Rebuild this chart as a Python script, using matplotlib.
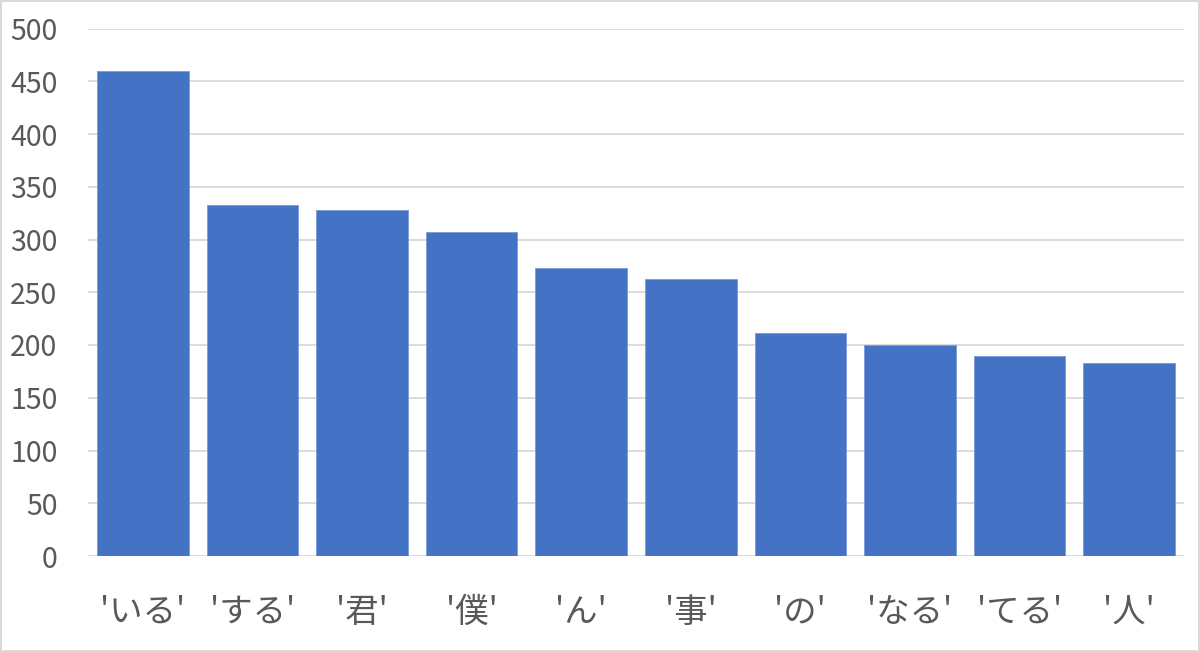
import matplotlib
matplotlib.use("Agg")
import matplotlib.pyplot as plt

plt.rcParams['font.family'] = ['Noto Sans CJK JP', 'DejaVu Sans']

categories = ["'いる'", "'する'", "'君'", "'僕'", "'ん'", "'事'", "'の'", "'なる'", "'てる'", "'人'"]
values = [460, 333, 328, 307, 273, 263, 211, 200, 190, 183]
yticks = [0, 50, 100, 150, 200, 250, 300, 350, 400, 450, 500]

fig = plt.figure(figsize=(12, 6.52), dpi=100)
fig.patch.set_facecolor('white')
fig.patch.set_edgecolor('#d9d9d9')
fig.patch.set_linewidth(1.5)

ax = fig.add_axes([88/1200, 1-556/652, (1184-88)/1200, (556-28.5)/652])
x = list(range(len(categories)))
ax.bar(x, values, width=0.836, color='#4472C4', edgecolor='#7a9bd8', linewidth=0.6, zorder=3)
ax.set_xlim(-0.5, len(categories)-0.5)
ax.set_ylim(0, 500)
ax.set_yticks(yticks)
ax.set_yticklabels([str(v) for v in yticks])
ax.set_xticks(x)
ax.set_xticklabels(categories)
ax.grid(axis='y', color='#d9d9d9', linewidth=1.3, zorder=0)
ax.set_axisbelow(True)
for s in ax.spines.values():
    s.set_visible(False)
ax.tick_params(axis='both', length=0, colors='#595959')
ax.tick_params(axis='y', labelsize=20.5, pad=22)
ax.tick_params(axis='x', labelsize=24, pad=28)
for lab in ax.get_yticklabels() + ax.get_xticklabels():
    lab.set_color('#595959')

fig.savefig('out.png', dpi=100, facecolor=fig.get_facecolor(), edgecolor=fig.get_edgecolor())
